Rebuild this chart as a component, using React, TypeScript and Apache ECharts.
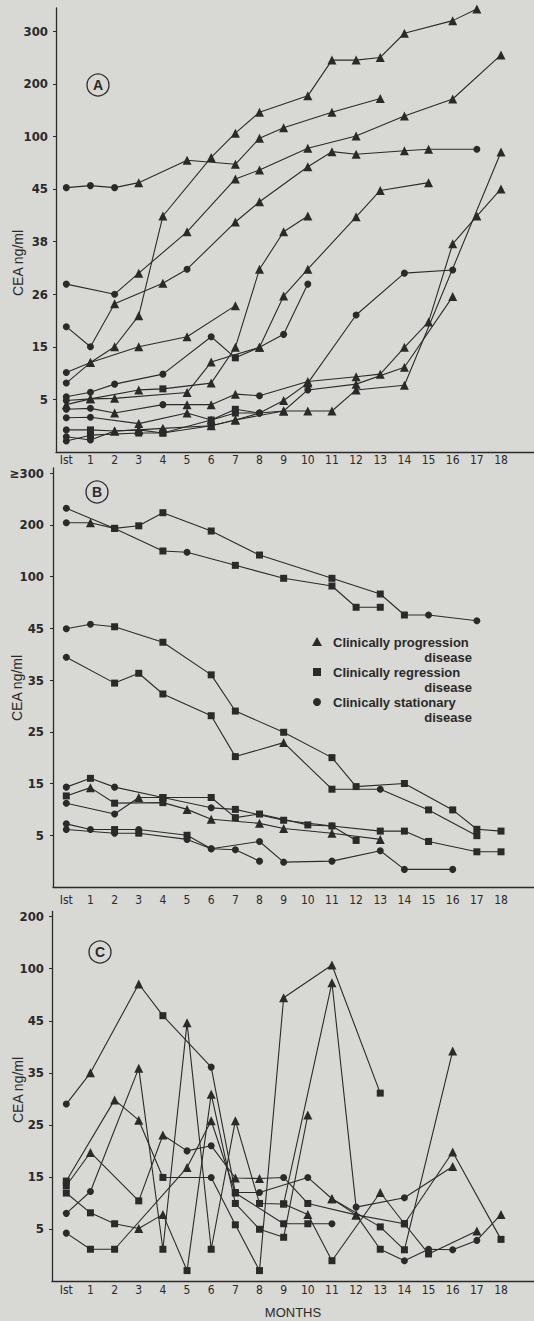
import React, { useEffect, useRef } from 'react';
import * as echarts from 'echarts';

// ---------- data ----------
const MONTH_LABELS = ['Ist', '1', '2', '3', '4', '5', '6', '7', '8', '9', '10', '11', '12', '13', '14', '15', '16', '17', '18'];
const MONTH_TICKS = [0, 1, 2, 3, 4, 5, 6, 7, 8, 9, 10, 11, 12, 13, 14, 15, 16, 17, 18];

const A_TICKS = [0, 5, 15, 26, 38, 45, 100, 200, 300];
const A_TICK_LABELS = ['', '5', '15', '26', '38', '45', '100', '200', '300'];
const B_TICKS = [0, 5, 15, 25, 35, 45, 100, 200, 300];
const B_TICK_LABELS = ['', '5', '15', '25', '35', '45', '100', '200', '≥300'];
const C_TICKS = [0, 5, 15, 25, 35, 45, 100, 200];
const C_TICK_LABELS = ['', '5', '15', '25', '35', '45', '100', '200'];

type Pt = [number, number, string]; // [month, CEA ng/ml, mark: t=progression s=regression c=stationary]

// Panel A
const A1: Pt[] = [[0, 8.1, 'c'], [1, 12, 't'], [2, 15, 't'], [3, 21.5, 't'], [4, 41.4, 't'], [6, 78, 't'], [7, 106, 't'], [8, 146, 't'], [10, 177, 't'], [11, 245, 't'], [12, 245, 't'], [13, 250, 't'], [14, 296, 't'], [16, 320, 't'], [17, 342, 't']];
const A2: Pt[] = [[0, 10.1, 'c'], [1, 12, 't'], [3, 15, 't'], [5, 17.1, 't'], [7, 23.6, 't']];
const A3: Pt[] = [[0, 46.4, 'c'], [1, 48.5, 'c'], [2, 46.4, 'c'], [3, 51.6, 't'], [5, 75, 't'], [7, 70.8, 't'], [8, 98, 't'], [9, 116.5, 't'], [11, 146, 't'], [13, 172, 't']];
const A4: Pt[] = [[0, 28.3, 'c'], [2, 26, 'c'], [3, 30.8, 't'], [5, 39.3, 't'], [7, 55.5, 't'], [8, 64.9, 't'], [10, 87.5, 't'], [12, 100.8, 't'], [14, 138.8, 't'], [16, 171, 't'], [18, 254.8, 't']];
const A5: Pt[] = [[0, 19.2, 'c'], [1, 15, 'c'], [2, 24, 't'], [4, 28.5, 't'], [5, 31.7, 'c'], [7, 40.6, 't'], [8, 43.3, 't'], [10, 68.3, 't'], [11, 84, 't'], [12, 81.3, 't'], [14, 85, 't'], [15, 86.5, 't'], [17, 86.5, 'c']];
const A6: Pt[] = [[0, 5.5, 'c'], [1, 6.35, 'c'], [2, 7.9, 'c'], [4, 9.8, 'c'], [6, 17.1, 'c'], [7, 12.9, 's'], [8, 14.9, 't'], [9, 17.6, 'c'], [10, 28.3, 'c']];
const A7: Pt[] = [[0, 4.9, 'c'], [1, 5.1, 't'], [2, 5.2, 't'], [5, 6.3, 't'], [6, 12.1, 't'], [8, 14.9, 't'], [9, 25.6, 't'], [10, 31.7, 't'], [12, 41.3, 't'], [13, 44.8, 't'], [15, 51.6, 't']];
const A8: Pt[] = [[0, 4.5, 't'], [1, 5.1, 't'], [3, 6.8, 't'], [4, 7, 's'], [6, 8.1, 't'], [7, 14.9, 't'], [8, 31.7, 't'], [9, 39.3, 't'], [10, 41.4, 't']];
const A9: Pt[] = [[0, 4.06, 'c'], [1, 4.15, 'c'], [2, 3.7, 't'], [4, 4.5, 'c'], [5, 4.5, 't'], [6, 4.5, 't'], [7, 6, 't'], [8, 5.7, 'c'], [10, 8.4, 't'], [12, 9.3, 't'], [13, 9.8, 't'], [14, 14.9, 't'], [15, 20.2, 't'], [16, 37.5, 't'], [17, 41.4, 't'], [18, 45, 't']];
const A10: Pt[] = [[0, 3.26, 'c'], [1, 3.3, 'c'], [3, 2.7, 't'], [5, 3.7, 't'], [6, 3.04, 't'], [7, 3.7, 's'], [8, 3.7, 'c'], [9, 4.9, 't'], [10, 8.1, 't'], [12, 21.65, 'c'], [14, 30.8, 'c'], [16, 31.5, 'c']];
const A11: Pt[] = [[0, 2.1, 'c'], [1, 2.1, 's'], [2, 2, 't'], [3, 2.1, 't'], [4, 2.25, 't'], [6, 2.5, 't'], [7, 3.04, 't'], [9, 3.9, 't'], [10, 3.9, 't'], [11, 3.9, 't'], [12, 6.8, 't'], [14, 7.7, 't'], [18, 83.7, 't']];
const A12: Pt[] = [[0, 1.05, 'c'], [1, 1.6, 's'], [3, 1.8, 's'], [4, 1.8, 's'], [6, 3.04, 's'], [7, 4.06, 's'], [8, 3.7, 'c'], [9, 3.9, 't'], [10, 6.8, 'c'], [12, 7.9, 't'], [14, 11.1, 't'], [16, 25.5, 't']];
const A13: Pt[] = [[0, 1.45, 'c'], [1, 1.14, 'c'], [2, 2, 't'], [3, 2.1, 't'], [4, 1.8, 's'], [6, 2.5, 's'], [7, 3.04, 't'], [8, 3.7, 'c']];

// Panel B
const B1: Pt[] = [[0, 231.8, 'c'], [2, 193, 's'], [4, 149.3, 's'], [5, 146.8, 'c'], [7, 121.6, 's'], [9, 98.1, 's'], [11, 89.9, 's'], [12, 67.3, 's'], [13, 67.3, 's']];
const B2: Pt[] = [[0, 204, 'c'], [1, 204, 't'], [2, 193, 's'], [3, 198, 's'], [4, 223.3, 's'], [6, 187.9, 's'], [8, 141.5, 's'], [11, 98.1, 's'], [13, 81.4, 's'], [14, 59.1, 's'], [15, 59.1, 'c'], [17, 53, 'c']];
const B3: Pt[] = [[0, 44.9, 'c'], [1, 49.2, 'c'], [2, 46.6, 's'], [4, 42.3, 's'], [6, 36, 's'], [7, 29, 's'], [9, 24.9, 's'], [11, 20, 's'], [12, 14.4, 's'], [14, 15, 's'], [16, 9.9, 's'], [17, 6.15, 's'], [18, 5.8, 's']];
const B4: Pt[] = [[0, 39.4, 'c'], [2, 34.4, 's'], [3, 36.3, 's'], [4, 32.3, 's'], [6, 28.1, 's'], [7, 20.2, 's'], [9, 22.9, 't'], [11, 13.9, 's'], [13, 13.9, 'c'], [15, 9.9, 's'], [17, 4.96, 's']];
const B5: Pt[] = [[0, 14.3, 'c'], [1, 16, 's'], [2, 14.3, 'c'], [4, 12.3, 's'], [6, 12.3, 's'], [7, 8.4, 's'], [8, 9.1, 's'], [10, 7, 's'], [11, 6.8, 'c'], [12, 4.5, 's']];
const B6: Pt[] = [[0, 12.6, 's'], [1, 14.2, 't'], [2, 11.2, 's'], [4, 11.3, 's'], [5, 10, 't'], [6, 8.1, 't'], [8, 7.3, 't'], [9, 6.3, 't'], [11, 5.4, 't'], [13, 4.6, 't']];
const B7: Pt[] = [[0, 11.2, 'c'], [2, 9.1, 'c'], [3, 12.3, 't'], [4, 12.3, 's'], [6, 10.3, 'c'], [7, 10, 's'], [9, 7.9, 's'], [11, 6.8, 's'], [13, 5.8, 's'], [14, 5.8, 's'], [15, 4.4, 's'], [17, 3.4, 's'], [18, 3.4, 's']];
const B8: Pt[] = [[0, 7.2, 'c'], [1, 6.1, 'c'], [2, 6.1, 's'], [3, 6.1, 'c'], [5, 5, 's'], [6, 3.7, 'c'], [8, 4.4, 'c'], [9, 2.4, 'c'], [11, 2.5, 'c'], [13, 3.5, 'c'], [14, 1.7, 'c'], [16, 1.7, 'c']];
const B9: Pt[] = [[0, 6.1, 'c'], [2, 5.4, 'c'], [3, 5.4, 's'], [5, 4.6, 'c'], [6, 3.7, 'c'], [7, 3.6, 'c'], [8, 2.5, 'c']];

// Panel C
const C1: Pt[] = [[0, 29, 'c'], [1, 35, 't'], [3, 83.9, 't'], [4, 50.4, 's'], [6, 36.1, 'c'], [7, 12, 's'], [8, 12, 'c'], [10, 14.9, 'c'], [11, 10.8, 't'], [13, 5.4, 's'], [14, 3, 's'], [16, 39.2, 't']];
const C2: Pt[] = [[0, 13.3, 's'], [1, 19.7, 't'], [3, 10.4, 's'], [4, 23.05, 't'], [5, 20, 'c'], [6, 21, 'c'], [7, 14.8, 't'], [8, 14.7, 't'], [9, 14.9, 'c'], [10, 9.9, 's'], [12, 7.7, 't'], [14, 6, 's'], [16, 19.8, 't'], [18, 4, 's']];
const C3: Pt[] = [[0, 14.2, 's'], [2, 29.8, 't'], [3, 25.9, 't'], [4, 14.9, 's'], [6, 14.9, 'c'], [7, 5.8, 's'], [8, 1, 's'], [9, 69.4, 't'], [11, 107.2, 't'], [13, 31.1, 's']];
const C4: Pt[] = [[0, 8, 'c'], [1, 12.2, 'c'], [3, 35.9, 't'], [4, 3.05, 's'], [5, 44.6, 't'], [6, 3.05, 's'], [7, 25.8, 't'], [8, 9.9, 's'], [9, 9.8, 's'], [11, 85.3, 't'], [12, 9.2, 'c'], [14, 11, 'c'], [16, 17, 't']];
const C5: Pt[] = [[0, 11.9, 's'], [1, 8.1, 's'], [2, 6, 's'], [3, 5.1, 't'], [4, 7.8, 't'], [5, 1, 's'], [6, 30.9, 't'], [7, 9.9, 's'], [8, 4.97, 's'], [9, 4.2, 's'], [10, 26.9, 't']];
const C6: Pt[] = [[0, 4.6, 'c'], [1, 3.05, 's'], [2, 3.05, 's'], [5, 16.8, 't'], [6, 25.8, 't'], [7, 11.9, 's'], [9, 6, 's'], [10, 6, 's'], [11, 6, 'c']];
const C7: Pt[] = [[9, 9.8, 's'], [10, 7.8, 't'], [11, 1.95, 's'], [13, 12, 't'], [14, 6, 's'], [15, 2.6, 's'], [17, 4.8, 't']];
const C8: Pt[] = [[11, 10.8, 't'], [12, 7.7, 't'], [13, 3.05, 's'], [14, 1.95, 'c'], [15, 3.05, 'c'], [16, 3, 'c'], [17, 3.9, 'c'], [18, 7.8, 't']];

const PANEL_A = [A1, A2, A3, A4, A5, A6, A7, A8, A9, A10, A11, A12, A13];
const PANEL_B = [B1, B2, B3, B4, B5, B6, B7, B8, B9];
const PANEL_C = [C1, C2, C3, C4, C5, C6, C7, C8];

// ---------- style ----------
const INK = '#2a2a2a';
const BG = '#d8d8d4';
const NUM_FONT = "'Liberation Sans Narrow', 'DejaVu Sans Condensed', 'Roboto', sans-serif";
const TXT_FONT = "'Liberation Sans', 'DejaVu Sans', sans-serif";

const SYM: Record<string, string> = { c: 'circle', t: 'triangle', s: 'rect' };
const SYM_SIZE: Record<string, number> = { c: 7, t: 9, s: 7 };

// position on the (non-linear) printed axis: index of tick interval + fraction
function toPos(v: number, ticks: number[]): number {
  const n = ticks.length;
  for (let i = 0; i < n - 1; i++) {
    if (v <= ticks[i + 1]) return i + (v - ticks[i]) / (ticks[i + 1] - ticks[i]);
  }
  return n - 2 + (v - ticks[n - 2]) / (ticks[n - 1] - ticks[n - 2]);
}

function buildSeries(lines: Pt[][], ticks: number[], idx: number) {
  return lines.map((pts) => ({
    type: 'line',
    xAxisIndex: idx,
    yAxisIndex: idx,
    silent: true,
    showSymbol: true,
    data: pts.map(([m, v, k]) => ({ value: [m, toPos(v, ticks)], symbol: SYM[k], symbolSize: SYM_SIZE[k] })),
    lineStyle: { color: INK, width: 1.1 },
    itemStyle: { color: INK },
  }));
}

const PANELS = [
  { top: 8, height: 444, left: 56, xMin: -0.4265, yMax: 8.44, xMargin: 2, yMargin: 8, ticks: A_TICKS, labels: A_TICK_LABELS, lines: PANEL_A },
  { top: 468, height: 419, left: 53, xMin: -0.551, yMax: 8.097, xMargin: 7, yMargin: 9, ticks: B_TICKS, labels: B_TICK_LABELS, lines: PANEL_B },
  { top: 911.5, height: 369.5, left: 52, xMin: -0.592, yMax: 7.1, xMargin: 3, yMargin: 8, ticks: C_TICKS, labels: C_TICK_LABELS, lines: PANEL_C },
];

function buildOption() {
  const grid = PANELS.map((p) => ({ left: p.left, right: 0, top: p.top, height: p.height, containLabel: false, outerBoundsMode: 'none' }));
  const xAxis = PANELS.map((p, i) => ({
    gridIndex: i,
    type: 'value',
    min: p.xMin,
    max: 19.366,
    axisLine: { show: true, onZero: false, lineStyle: { color: INK, width: 1.3 } },
    axisTick: { show: false },
    splitLine: { show: false },
    axisLabel: {
      customValues: MONTH_TICKS,
      formatter: (v: number) => MONTH_LABELS[Math.round(v)],
      margin: p.xMargin,
      color: INK,
      fontSize: 12,
      fontFamily: NUM_FONT,
    },
  }));
  const yAxis = PANELS.map((p, i) => {
    const tickPos = p.ticks.map((_, k) => k).filter((k) => k > 0);
    return {
      gridIndex: i,
      type: 'value',
      min: 0,
      max: p.yMax,
      axisLine: { show: true, onZero: false, lineStyle: { color: INK, width: 1.3 } },
      axisTick: { show: true, customValues: tickPos, length: 3, lineStyle: { color: INK } },
      splitLine: { show: false },
      axisLabel: {
        customValues: tickPos,
        formatter: (v: number) => p.labels[Math.round(v)],
        margin: p.yMargin,
        color: INK,
        fontSize: 13,
        fontWeight: 'bold',
        fontFamily: NUM_FONT,
      },
    };
  });
  const series = [
    ...buildSeries(PANELS[0].lines, PANELS[0].ticks, 0),
    ...buildSeries(PANELS[1].lines, PANELS[1].ticks, 1),
    ...buildSeries(PANELS[2].lines, PANELS[2].ticks, 2),
  ];

  const panelBadge = (letter: string, cx: number, cy: number) => ({
    type: 'group',
    children: [
      { type: 'circle', shape: { cx, cy, r: 11 }, style: { fill: 'none', stroke: INK, lineWidth: 1.3 } },
      { type: 'text', x: cx, y: cy, style: { text: letter, fill: INK, font: `bold 14px ${TXT_FONT}`, align: 'center', verticalAlign: 'middle' } },
    ],
  });
  const yName = (cx: number, cy: number) => ({
    type: 'text', x: cx, y: cy, rotation: Math.PI / 2,
    style: { text: 'CEA ng/ml', fill: INK, font: `14px ${TXT_FONT}`, align: 'center', verticalAlign: 'middle' },
  });
  const legendFont = `bold 13px ${TXT_FONT}`;
  const graphic = [
    panelBadge('A', 98, 85),
    panelBadge('B', 97, 492),
    panelBadge('C', 100, 952),
    yName(18, 263),
    yName(17, 688),
    yName(18, 1090),
    { type: 'polygon', shape: { points: [[312, 646], [322, 646], [317, 637]] }, style: { fill: INK } },
    { type: 'text', x: 333, y: 642, style: { text: 'Clinically progression', fill: INK, font: legendFont, verticalAlign: 'middle' } },
    { type: 'text', x: 472, y: 657, style: { text: 'disease', fill: INK, font: legendFont, align: 'right', verticalAlign: 'middle' } },
    { type: 'rect', shape: { x: 313, y: 668, width: 8, height: 8 }, style: { fill: INK } },
    { type: 'text', x: 333, y: 672, style: { text: 'Clinically regression', fill: INK, font: legendFont, verticalAlign: 'middle' } },
    { type: 'text', x: 472, y: 687, style: { text: 'disease', fill: INK, font: legendFont, align: 'right', verticalAlign: 'middle' } },
    { type: 'circle', shape: { cx: 317, cy: 702, r: 4 }, style: { fill: INK } },
    { type: 'text', x: 333, y: 702, style: { text: 'Clinically stationary', fill: INK, font: legendFont, verticalAlign: 'middle' } },
    { type: 'text', x: 472, y: 717, style: { text: 'disease', fill: INK, font: legendFont, align: 'right', verticalAlign: 'middle' } },
    { type: 'text', x: 293, y: 1312, style: { text: 'MONTHS', fill: INK, font: `13px ${TXT_FONT}`, align: 'center', verticalAlign: 'middle' } },
  ];

  return { animation: false, backgroundColor: BG, grid, xAxis, yAxis, series, graphic };
}

export default function App() {
  const ref = useRef<HTMLDivElement>(null);
  useEffect(() => {
    if (!ref.current) return;
    const chart = echarts.init(ref.current, null, { renderer: 'svg' });
    chart.setOption(buildOption() as any);
    return () => chart.dispose();
  }, []);
  return <div ref={ref} style={{ position: 'absolute', left: 0, top: 0, width: 534, height: 1321 }} />;
}
